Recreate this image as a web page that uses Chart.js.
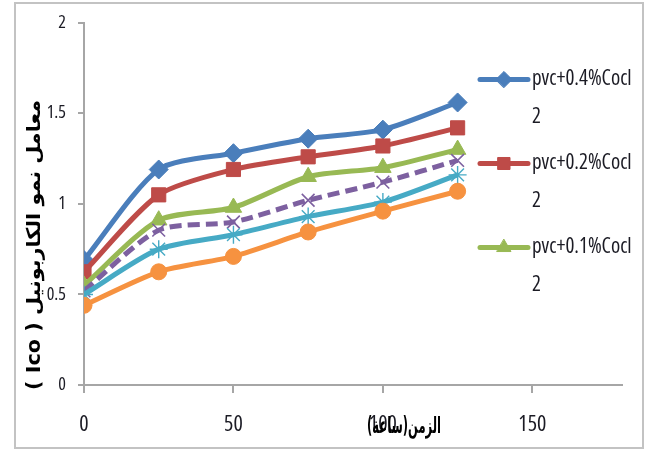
<!DOCTYPE html>
<html>
<head>
<meta charset="utf-8">
<script src="https://cdn.jsdelivr.net/npm/chart.js@4.4.1/dist/chart.umd.min.js"></script>
<style>
  html, body { margin: 0; padding: 0; background: #fff; }
  #wrap { width: 654px; height: 452px; position: relative; }
</style>
</head>
<body>
<div id="wrap"><canvas id="chart" width="654" height="452"></canvas></div>
<script>
// Sampling times (hours) and carbonyl index per blend
const hours = [0, 25, 50, 75, 100, 125];
const pvc04 = [0.69, 1.19, 1.28, 1.36, 1.41, 1.56];
const pvc02 = [0.625, 1.05, 1.19, 1.26, 1.32, 1.42];
const pvc01 = [0.55, 0.91, 0.98, 1.15, 1.20, 1.30];
const series4 = [0.52, 0.855, 0.90, 1.02, 1.12, 1.24];
const series5 = [0.50, 0.75, 0.83, 0.93, 1.01, 1.16];
const series6 = [0.44, 0.625, 0.71, 0.845, 0.96, 1.07];

const legendLabels = [
  ['pvc+0.4%Cocl', '2'],
  ['pvc+0.2%Cocl', '2'],
  ['pvc+0.1%Cocl', '2']
];
const xTickValues = [0, 50, 100, 150];
const yTickValues = [0, 0.5, 1, 1.5, 2];
const yTitle = 'معامل نمو الكاربونيل ( Ico )';
const xTitle = 'الزمن(ساعة)';

// condensed Open Sans face for all numeric and legend text
const CONDENSED = 'condensed';
const FAMILY = "'Open Sans', 'Roboto Condensed', sans-serif";
const AXIS_GRAY = '#a6a6a6';
const TEXT = '#1b1b24';

const toPoints = arr => hours.map((h, i) => ({ x: h, y: arr[i] }));

function lineSeries(label, values, color, style, radius, extra) {
  return Object.assign({
    label,
    data: toPoints(values),
    borderColor: color,
    backgroundColor: color,
    pointBackgroundColor: color,
    pointBorderColor: color,
    pointStyle: style,
    pointRadius: radius,
    pointBorderWidth: 1,
    borderWidth: 5,
    tension: 0.25,
    fill: false
  }, extra || {});
}

const datasets = [
  lineSeries(legendLabels[0].join(''), pvc04, '#4a7ebb', 'rectRot', 9.5, { order: 6 }),
  lineSeries(legendLabels[1].join(''), pvc02, '#be4b48', 'rect', 10, { order: 5 }),
  lineSeries(legendLabels[2].join(''), pvc01, '#98b954', 'triangle', 9.5, { order: 4 }),
  lineSeries('Series4', series4, '#7d60a0', 'crossRot', 9, { order: 3, borderDash: [12, 6], pointBorderWidth: 1.6 }),
  lineSeries('Series5', series5, '#46aac5', 'star', 9, { order: 2, pointBorderWidth: 1.4 }),
  lineSeries('Series6', series6, '#f69240', 'circle', 8, { order: 1 })
];

// White page with a light grey frame around the chart
const framePlugin = {
  id: 'frame',
  beforeDraw(chart) {
    const ctx = chart.ctx;
    ctx.save();
    ctx.fillStyle = '#fff';
    ctx.fillRect(0, 0, chart.width, chart.height);
    ctx.restore();
  },
  afterDraw(chart) {
    const ctx = chart.ctx;
    ctx.save();
    ctx.strokeStyle = '#c3c3c3';
    ctx.lineWidth = 2;
    ctx.strokeRect(15, 3, 628, 445);
    ctx.restore();
  }
};

// Arabic axis titles, drawn right-to-left
const titlesPlugin = {
  id: 'axisTitles',
  afterDraw(chart) {
    const ctx = chart.ctx;
    ctx.save();
    ctx.fillStyle = '#000';
    ctx.direction = 'rtl';
    ctx.textAlign = 'center';
    ctx.textBaseline = 'middle';
    ctx.font = "bold 19px 'DejaVu Sans', sans-serif";
    const wy = ctx.measureText(yTitle).width;
    ctx.translate(35, 245);
    ctx.rotate(-Math.PI / 2);
    ctx.scale(290 / wy, 1);
    ctx.fillText(yTitle, 0, 0);
    ctx.restore();

    ctx.save();
    ctx.fillStyle = '#000';
    ctx.direction = 'rtl';
    ctx.textAlign = 'center';
    ctx.textBaseline = 'middle';
    ctx.font = "bold 17px 'DejaVu Sans', sans-serif";
    const wx = ctx.measureText(xTitle).width;
    ctx.translate(404, 427);
    ctx.scale(74 / wx, 1.3);
    ctx.fillText(xTitle, 0, 0);
    ctx.restore();
  }
};

// Legend for the first three blends, laid over the right side of the plot
const legendPlugin = {
  id: 'sideLegend',
  afterDraw(chart) {
    const ctx = chart.ctx;
    const x0 = 480, x1 = 528, tx = 532;
    legendLabels.forEach((lines, i) => {
      const ds = chart.data.datasets[i];
      const y = 79.5 + i * 84;
      ctx.save();
      ctx.strokeStyle = ds.borderColor;
      ctx.lineWidth = ds.borderWidth;
      ctx.lineCap = 'round';
      ctx.beginPath();
      ctx.moveTo(x0, y);
      ctx.lineTo(x1, y);
      ctx.stroke();
      ctx.fillStyle = ds.pointBackgroundColor;
      ctx.strokeStyle = ds.pointBorderColor;
      ctx.lineWidth = 1;
      Chart.helpers.drawPoint(ctx, {
        pointStyle: ds.pointStyle,
        radius: ds.pointRadius * 0.85,
        rotation: 0,
        borderWidth: 1
      }, (x0 + x1) / 2, y);
      ctx.fillStyle = TEXT;
      ctx.font = CONDENSED + ' 21px ' + FAMILY;
      ctx.textAlign = 'left';
      ctx.textBaseline = 'middle';
      lines.forEach((t, k) => ctx.fillText(t, tx, y + k * 38));
      ctx.restore();
    });
  }
};

new Chart(document.getElementById('chart'), {
  type: 'line',
  data: { datasets },
  plugins: [framePlugin, titlesPlugin, legendPlugin],
  options: {
    responsive: false,
    animation: false,
    devicePixelRatio: 1,
    layout: { padding: { left: 0, top: 22, right: 32, bottom: 0 } },
    plugins: {
      legend: { display: false },
      tooltip: { enabled: false }
    },
    scales: {
      x: {
        type: 'linear',
        min: 0,
        max: 180,
        afterBuildTicks: s => { s.ticks = xTickValues.map(v => ({ value: v })); },
        afterFit: s => { s.height = 67; },
        ticks: {
          font: { family: FAMILY, size: 22, weight: CONDENSED },
          color: TEXT,
          padding: 19,
          maxRotation: 0,
          autoSkip: false,
          callback: v => String(v)
        },
        grid: { drawOnChartArea: false, tickLength: 8, color: AXIS_GRAY, lineWidth: 2 },
        border: { display: true, color: AXIS_GRAY, width: 2 }
      },
      y: {
        min: 0,
        max: 2,
        afterBuildTicks: s => { s.ticks = yTickValues.map(v => ({ value: v })); },
        afterFit: s => { s.width = 84; },
        ticks: {
          font: { family: FAMILY, size: 18, weight: CONDENSED },
          color: TEXT,
          padding: 12,
          callback: v => String(v)
        },
        grid: { drawOnChartArea: false, tickLength: 6, color: AXIS_GRAY, lineWidth: 2 },
        border: { display: true, color: AXIS_GRAY, width: 2 }
      }
    }
  }
});
</script>
</body>
</html>
